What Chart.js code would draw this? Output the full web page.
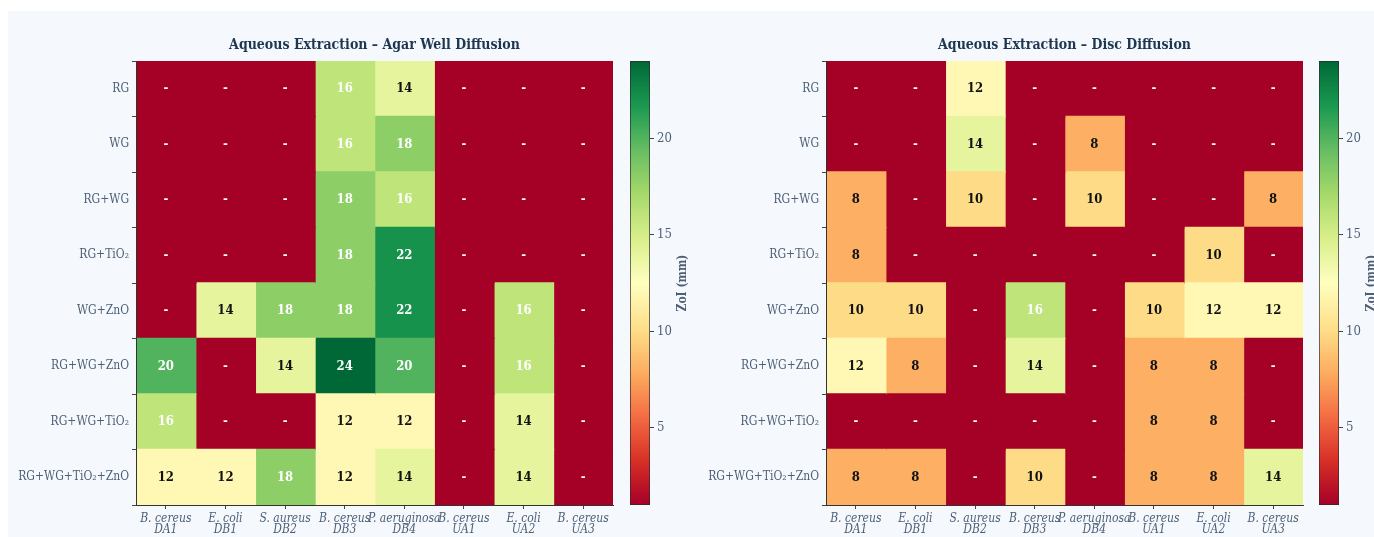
<!DOCTYPE html>
<html lang="en">
<head>
    <meta charset="UTF-8">
    <title>Aqueous Extraction – Zone of Inhibition</title>
    <script src="https://cdn.jsdelivr.net/npm/chart.js"></script>
    <style>
        body { margin: 0; background: #ffffff; width: 1374px; height: 537px; position: relative; overflow: hidden; }
        #panel { position: absolute; left: 8px; top: 11px; width: 1366px; height: 526px; background: #f5f9fe; }
        canvas { position: absolute; top: 0; }
    </style>
</head>
<body>
    <div id="panel"></div>
    <canvas id="wellChart" width="620" height="537" style="left:0px"></canvas>
    <canvas id="wellBar" width="80" height="537" style="left:620px"></canvas>
    <canvas id="discChart" width="620" height="537" style="left:690px"></canvas>
    <canvas id="discBar" width="66" height="537" style="left:1308px"></canvas>

    <script>
        // treatments (rows) and test organisms (columns)
        const rowLabels = ['RG', 'WG', 'RG+WG', 'RG+TiO₂', 'WG+ZnO', 'RG+WG+ZnO', 'RG+WG+TiO₂', 'RG+WG+TiO₂+ZnO'];
        const colLabels = [
            ['B. cereus', 'DA1'], ['E. coli', 'DB1'], ['S. aureus', 'DB2'], ['B. cereus', 'DB3'],
            ['P. aeruginosa', 'DB4'], ['B. cereus', 'UA1'], ['E. coli', 'UA2'], ['B. cereus', 'UA3']
        ];

        // zone of inhibition in mm, null = no zone ("-")
        const agarWell = [
            [null, null, null, 16, 14, null, null, null],
            [null, null, null, 16, 18, null, null, null],
            [null, null, null, 18, 16, null, null, null],
            [null, null, null, 18, 22, null, null, null],
            [null, 14, 18, 18, 22, null, 16, null],
            [20, null, 14, 24, 20, null, 16, null],
            [16, null, null, 12, 12, null, 14, null],
            [12, 12, 18, 12, 14, null, 14, null]
        ];
        const discDiffusion = [
            [null, null, 12, null, null, null, null, null],
            [null, null, 14, null, 8, null, null, null],
            [8, null, 10, null, 10, null, null, 8],
            [8, null, null, null, null, null, 10, null],
            [10, 10, null, 16, null, 10, 12, 12],
            [12, 8, null, 14, null, 8, 8, null],
            [null, null, null, null, null, 8, 8, null],
            [8, 8, null, 10, null, 8, 8, 14]
        ];

        const zoiMin = 1, zoiMax = 24;
        const colorbarTicks = [5, 10, 15, 20];

        const FONT = "'DejaVu Serif Condensed', 'DejaVu Serif', serif";
        const TITLE_COLOR = '#1f3650';
        const LABEL_COLOR = '#4d5f75';

        // RdYlGn
        const rdylgn = ['#a50026', '#d73027', '#f46d43', '#fdae61', '#fee08b', '#ffffbf',
                        '#d9ef8b', '#a6d96a', '#66bd63', '#1a9850', '#006837'];

        function hexToRgb(h) {
            return [parseInt(h.slice(1, 3), 16), parseInt(h.slice(3, 5), 16), parseInt(h.slice(5, 7), 16)];
        }

        function cmap(v) {
            if (v === null) v = zoiMin;
            let t = (v - zoiMin) / (zoiMax - zoiMin);
            t = Math.max(0, Math.min(1, t));
            const pos = t * (rdylgn.length - 1);
            const i = Math.min(Math.floor(pos), rdylgn.length - 2);
            const f = pos - i;
            const a = hexToRgb(rdylgn[i]), b = hexToRgb(rdylgn[i + 1]);
            const c = a.map((x, k) => Math.round(x + (b[k] - x) * f));
            return `rgb(${c[0]}, ${c[1]}, ${c[2]})`;
        }

        // title centred over the plot area
        const panelTitle = {
            id: 'panelTitle',
            afterDraw(chart, args, opts) {
                const { ctx, chartArea } = chart;
                ctx.save();
                ctx.font = `bold 14px ${FONT}`;
                ctx.fillStyle = TITLE_COLOR;
                ctx.textAlign = 'center';
                ctx.textBaseline = 'middle';
                ctx.fillText(opts.text, (chartArea.left + chartArea.right) / 2, 45);
                ctx.restore();
            }
        };

        // value printed in each cell
        const cellText = {
            id: 'cellText',
            afterDatasetsDraw(chart, args, opts) {
                const ctx = chart.ctx;
                ctx.save();
                ctx.font = `bold 13px ${FONT}`;
                ctx.textAlign = 'center';
                ctx.textBaseline = 'middle';
                chart.data.datasets.forEach((ds, j) => {
                    chart.getDatasetMeta(j).data.forEach((bar, i) => {
                        const v = opts.values[i][j];
                        const p = bar.getCenterPoint();
                        ctx.fillStyle = (v === null || v >= 15) ? '#ffffff' : '#111111';
                        ctx.fillText(v === null ? '-' : String(v), p.x, p.y);
                    });
                });
                ctx.restore();
            }
        };

        function makeHeatmap(id, title, values) {
            return new Chart(document.getElementById(id), {
                type: 'bar',
                data: {
                    labels: rowLabels,
                    datasets: colLabels.map((c, j) => ({
                        data: rowLabels.map(() => [j, j + 1]),
                        backgroundColor: values.map(row => cmap(row[j])),
                        borderWidth: 0,
                        inflateAmount: 0.8,
                        barPercentage: 1,
                        categoryPercentage: 1,
                        grouped: false
                    }))
                },
                options: {
                    indexAxis: 'y',
                    responsive: false,
                    animation: false,
                    layout: { padding: { top: 61, right: 7 } },
                    plugins: {
                        legend: { display: false },
                        tooltip: { enabled: false },
                        panelTitle: { text: title },
                        cellText: { values: values }
                    },
                    scales: {
                        x: {
                            type: 'linear',
                            min: 0,
                            max: colLabels.length,
                            afterBuildTicks: s => { s.ticks = colLabels.map((c, j) => ({ value: j + 0.5 })); },
                            afterFit: s => { s.height = 32; },
                            ticks: {
                                autoSkip: false,
                                maxRotation: 0,
                                padding: 4,
                                color: LABEL_COLOR,
                                font: { family: FONT, size: 12, style: 'italic', lineHeight: 0.95 },
                                callback: v => colLabels[Math.floor(v)]
                            },
                            grid: { drawOnChartArea: false, tickLength: 4, color: '#444' },
                            border: { color: '#333', width: 1, z: 1 }
                        },
                        y: {
                            afterFit: s => { s.width = 136; },
                            ticks: {
                                padding: 3,
                                color: LABEL_COLOR,
                                font: { family: FONT, size: 12 }
                            },
                            grid: { drawOnChartArea: false, tickLength: 4, color: '#444' },
                            border: { color: '#333', width: 1, z: 1 }
                        }
                    }
                },
                plugins: [panelTitle, cellText]
            });
        }

        // colour bar label, reading bottom to top
        const barTitle = {
            id: 'barTitle',
            afterDraw(chart) {
                const { ctx, chartArea } = chart;
                ctx.save();
                ctx.translate(chartArea.right + 33, (chartArea.top + chartArea.bottom) / 2);
                ctx.rotate(-Math.PI / 2);
                ctx.font = `bold 12px ${FONT}`;
                ctx.fillStyle = LABEL_COLOR;
                ctx.textAlign = 'center';
                ctx.textBaseline = 'middle';
                ctx.fillText('ZoI (mm)', 0, 0);
                ctx.restore();
            }
        };

        function makeColorbar(id, padLeft, axisWidth) {
            return new Chart(document.getElementById(id), {
                type: 'bar',
                data: {
                    labels: ['ZoI'],
                    datasets: [{
                        data: [[zoiMin, zoiMax]],
                        backgroundColor: ctx => {
                            const ca = ctx.chart.chartArea;
                            if (!ca) return cmap(zoiMin);
                            const g = ctx.chart.ctx.createLinearGradient(0, ca.bottom, 0, ca.top);
                            rdylgn.forEach((c, k) => g.addColorStop(k / (rdylgn.length - 1), c));
                            return g;
                        },
                        borderColor: '#2b2b2b',
                        borderWidth: 1,
                        borderSkipped: false,
                        barPercentage: 1,
                        categoryPercentage: 1
                    }]
                },
                options: {
                    responsive: false,
                    animation: false,
                    layout: { padding: { top: 61, bottom: 32, left: padLeft } },
                    plugins: { legend: { display: false }, tooltip: { enabled: false } },
                    scales: {
                        x: { display: false },
                        y: {
                            position: 'right',
                            min: zoiMin,
                            max: zoiMax,
                            afterBuildTicks: s => { s.ticks = colorbarTicks.map(v => ({ value: v })); },
                            afterFit: s => { s.width = axisWidth; },
                            ticks: { color: LABEL_COLOR, padding: 3, font: { family: FONT, size: 13 } },
                            grid: { drawOnChartArea: false, tickLength: 4, color: '#444' },
                            border: { display: false }
                        }
                    }
                },
                plugins: [barTitle]
            });
        }

        makeHeatmap('wellChart', 'Aqueous Extraction – Agar Well Diffusion', agarWell);
        makeColorbar('wellBar', 10, 50);
        makeHeatmap('discChart', 'Aqueous Extraction – Disc Diffusion', discDiffusion);
        makeColorbar('discBar', 11, 35);
    </script>
</body>
</html>
